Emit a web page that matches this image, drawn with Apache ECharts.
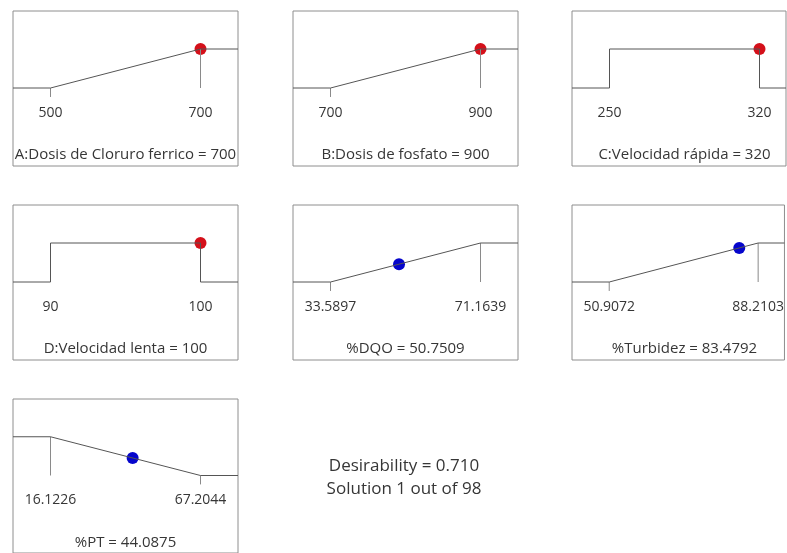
<!DOCTYPE html>
<html>
<head>
<meta charset="utf-8">
<script src="https://cdn.jsdelivr.net/npm/echarts@6/dist/echarts.min.js"></script>
<style>html,body{margin:0;padding:0;background:#fff}#c{width:787px;height:553px}</style>
</head>
<body>
<div id="c"></div>
<script>
// ---- data ----
const factorNames = ['A:Dosis de Cloruro ferrico', 'B:Dosis de fosfato', 'C:Velocidad rápida', 'D:Velocidad lenta', '%DQO', '%Turbidez', '%PT'];
const lowLimits = [500, 700, 250, 90, 33.5897, 50.9072, 16.1226];
const highLimits = [700, 900, 320, 100, 71.1639, 88.2103, 67.2044];
const lowLabels = ['500', '700', '250', '90', '33.5897', '50.9072', '16.1226'];
const highLabels = ['700', '900', '320', '100', '71.1639', '88.2103', '67.2044'];
const solutionValues = [700, 900, 320, 100, 50.7509, 83.4792, 44.0875];
const solutionLabels = ['700', '900', '320', '100', '50.7509', '83.4792', '44.0875'];
const solutionDesirability = [1, 1, 1, 1, 0.457, 0.873, 0.453];
const goals = ['maximize', 'maximize', 'range', 'range', 'maximize', 'maximize', 'minimize'];
const isResponse = [false, false, false, false, true, true, true];
const desirabilityText = 'Desirability = 0.710';
const solutionText = 'Solution 1 out of 98';

// ---- layout ----
const CW = 787;
const colLeft = [13, 293, 572];
const rowTop = [11, 205, 399];
const W = 225, H = 155;
const FONT = '"Open Sans", sans-serif';
const TXT = '#363636';

const grids = [], xAxes = [], yAxes = [], series = [], titles = [];
factorNames.forEach((name, i) => {
  const r = Math.floor(i / 3), c = i % 3;
  const lo = lowLimits[i], hi = highLimits[i], span = hi - lo;
  const visW = Math.min(W, CW - 1 - colLeft[c]);
  const xmin = lo - 0.25 * span;
  const xmax = xmin + 1.5 * span * (visW / W);
  grids.push({left: colLeft[c], top: rowTop[r], width: visW, height: H, show: true,
    borderColor: '#8e8e8e', borderWidth: 1, backgroundColor: 'transparent'});
  xAxes.push({type: 'value', gridIndex: i, min: xmin, max: xmax,
    axisLine: {show: false}, axisTick: {show: false}, splitLine: {show: false},
    axisLabel: {show: true, inside: true, margin: 46, customValues: [lo, hi],
      formatter: v => (Math.abs(v - lo) < 1e-9 ? lowLabels[i] : highLabels[i]),
      fontFamily: FONT, fontSize: 14, color: TXT}});
  yAxes.push({type: 'value', gridIndex: i, min: -2, max: 1 + 38 / 39, show: false});
  let curve, marks = [];
  if (goals[i] === 'maximize') {
    curve = [[xmin, 0], [lo, 0], [hi, 1], [xmax, 1]];
    marks = [[[lo, 0], [lo, -0.23]], [[hi, 1], [hi, 0]]];
  } else if (goals[i] === 'minimize') {
    curve = [[xmin, 1], [lo, 1], [hi, 0], [xmax, 0]];
    marks = [[[lo, 1], [lo, 0]], [[hi, 0], [hi, -0.23]]];
  } else {
    curve = [[xmin, 0], [lo, 0], [lo, 1], [hi, 1], [hi, 0], [xmax, 0]];
  }
  marks.forEach(m => series.push({type: 'line', xAxisIndex: i, yAxisIndex: i, data: m,
    symbol: 'none', silent: true, lineStyle: {color: '#8a8a8a', width: 1}}));
  series.push({type: 'line', xAxisIndex: i, yAxisIndex: i, data: curve, symbol: 'none',
    silent: true, lineStyle: {color: '#555555', width: 1}});
  series.push({type: 'scatter', xAxisIndex: i, yAxisIndex: i,
    data: [[solutionValues[i], solutionDesirability[i]]], symbolSize: 12,
    itemStyle: {color: isResponse[i] ? '#0505cc' : '#d4101a', opacity: 1}});
  titles.push({text: name + ' = ' + solutionLabels[i], left: colLeft[c] + W / 2, top: rowTop[r] + 136,
    textAlign: 'center', padding: 0,
    textStyle: {fontFamily: FONT, fontSize: 15, fontWeight: 'normal', color: TXT}});
});
titles.push({text: desirabilityText + '\n' + solutionText, left: 404, top: 455, textAlign: 'center', padding: 0,
  textStyle: {fontFamily: FONT, fontSize: 17, fontWeight: 'normal', color: TXT, lineHeight: 23}});

const chart = echarts.init(document.getElementById('c'), null, {renderer: 'canvas'});
chart.setOption({animation: false, title: titles, grid: grids, xAxis: xAxes, yAxis: yAxes, series: series});
</script>
</body>
</html>
